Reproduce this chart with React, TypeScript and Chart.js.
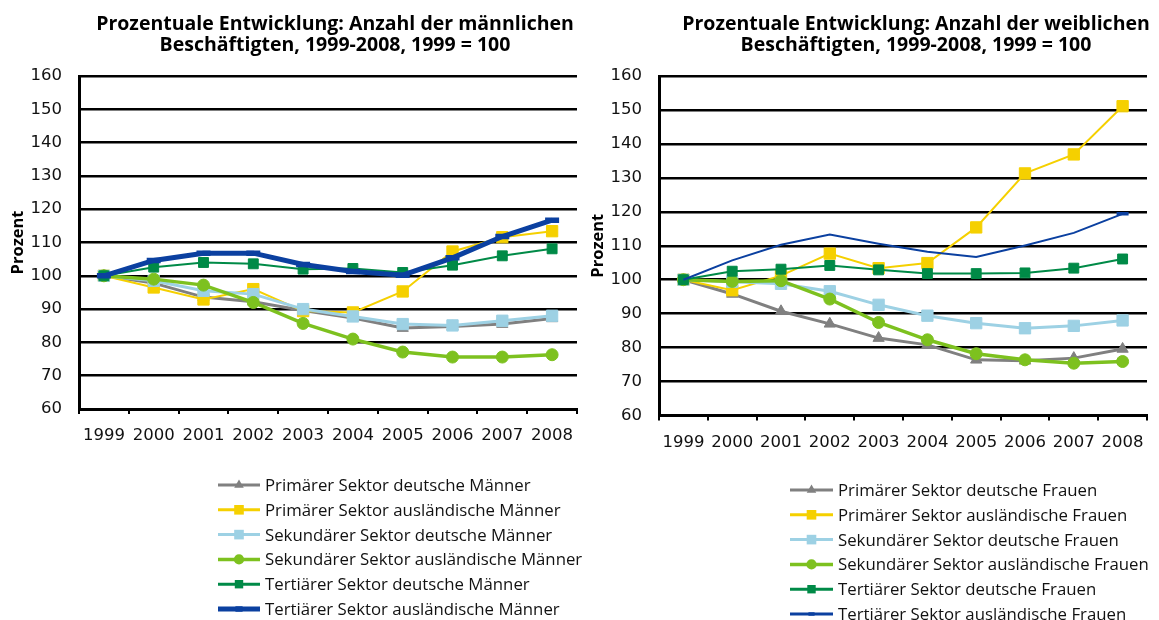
import React, { useEffect, useRef } from 'react';
import { Chart, registerables } from 'chart.js';

Chart.register(...registerables);

// ---------- data ----------
const years = ['1999', '2000', '2001', '2002', '2003', '2004', '2005', '2006', '2007', '2008'];
const yTickMin = 60;
const yTickMax = 160;
const yTickStep = 10;

const menPrimaerDeutsch = [100, 97.8, 93.6, 92.2, 89.6, 87.3, 84.3, 84.8, 85.5, 87.2];
const menPrimaerAusl = [100, 96.5, 92.9, 96.0, 89.4, 89.0, 95.3, 107.3, 111.6, 113.4];
const menSekundaerDeutsch = [100, 98.5, 95.5, 94.5, 90.0, 87.8, 85.5, 85.1, 86.5, 88.0];
const menSekundaerAusl = [100, 99.0, 97.2, 92.0, 85.7, 81.0, 77.1, 75.6, 75.6, 76.3];
const menTertiaerDeutsch = [100, 102.6, 104.0, 103.6, 102.0, 102.2, 101.0, 103.2, 106.0, 108.1];
const menTertiaerAusl = [100, 104.6, 106.8, 106.8, 103.4, 101.3, 100.2, 105.4, 111.8, 116.7];

const womenPrimaerDeutsch = [100, 95.8, 90.7, 87.0, 82.8, 80.8, 76.4, 76.1, 76.9, 79.6];
const womenPrimaerAusl = [100, 96.9, 101.2, 107.7, 103.4, 104.9, 115.4, 131.3, 136.9, 151.1];
const womenSekundaerDeutsch = [100, 99.4, 98.8, 96.6, 92.6, 89.4, 87.2, 85.7, 86.4, 88.0];
const womenSekundaerAusl = [100, 99.5, 99.7, 94.3, 87.4, 82.3, 78.2, 76.4, 75.4, 75.9];
const womenTertiaerDeutsch = [100, 102.5, 103.1, 104.2, 102.9, 101.8, 101.8, 102.0, 103.4, 106.1];
const womenTertiaerAusl = [100, 105.7, 110.3, 113.3, 110.6, 108.2, 106.7, 110.1, 113.8, 119.4];

const menLabels = [
  'Primärer Sektor deutsche Männer',
  'Primärer Sektor ausländische Männer',
  'Sekundärer Sektor deutsche Männer',
  'Sekundärer Sektor ausländische Männer',
  'Tertiärer Sektor deutsche Männer',
  'Tertiärer Sektor ausländische Männer',
];
const womenLabels = [
  'Primärer Sektor deutsche Frauen',
  'Primärer Sektor ausländische Frauen',
  'Sekundärer Sektor deutsche Frauen',
  'Sekundärer Sektor ausländische Frauen',
  'Tertiärer Sektor deutsche Frauen',
  'Tertiärer Sektor ausländische Frauen',
];

const menTitle = ['Prozentuale Entwicklung: Anzahl der männlichen', 'Beschäftigten, 1999-2008, 1999 = 100'];
const womenTitle = ['Prozentuale Entwicklung: Anzahl der weiblichen', 'Beschäftigten, 1999-2008, 1999 = 100'];
const yTitle = 'Prozent';

// ---------- styles ----------
type SeriesStyle = {
  color: string;
  pointStyle: string;
  radius: number;
  width: number;
  pointBorder: number;
  lastOnly?: boolean;
};

const menStyles: SeriesStyle[] = [
  { color: '#808080', pointStyle: 'triangle', radius: 6.5, width: 3, pointBorder: 1 },
  { color: '#F5D000', pointStyle: 'rect', radius: 8, width: 2, pointBorder: 1 },
  { color: '#9DD1E4', pointStyle: 'rect', radius: 8, width: 3, pointBorder: 1 },
  { color: '#7DC11F', pointStyle: 'circle', radius: 6, width: 3.5, pointBorder: 1 },
  { color: '#008A47', pointStyle: 'rect', radius: 7, width: 2, pointBorder: 1 },
  { color: '#0B40A0', pointStyle: 'line', radius: 7, width: 5, pointBorder: 5.5 },
];
const womenStyles: SeriesStyle[] = [
  { color: '#808080', pointStyle: 'triangle', radius: 6.5, width: 3, pointBorder: 1 },
  { color: '#F5D000', pointStyle: 'rect', radius: 8, width: 2, pointBorder: 1 },
  { color: '#9DD1E4', pointStyle: 'rect', radius: 8, width: 3, pointBorder: 1 },
  { color: '#7DC11F', pointStyle: 'circle', radius: 6, width: 3.5, pointBorder: 1 },
  { color: '#008A47', pointStyle: 'rect', radius: 7, width: 2, pointBorder: 1 },
  { color: '#0B40A0', pointStyle: 'line', radius: 6, width: 2, pointBorder: 3.5, lastOnly: true },
];

const TICK_FONT = 'DejaVu Sans';
const TEXT_FONT = "'Open Sans', 'Noto Sans', sans-serif";

type Layout = {
  width: number;
  height: number;
  padRight: number;
  padBottom: number;
  titleX: number;
  legendX0: number;
  legendX1: number;
  legendTextX: number;
  legendY0: number;
  legendStep: number;
};

function drawMarker(ctx: CanvasRenderingContext2D, style: SeriesStyle, x: number, y: number, scale: number) {
  const r = style.radius * scale;
  ctx.fillStyle = style.color;
  ctx.strokeStyle = style.color;
  ctx.beginPath();
  if (style.pointStyle === 'triangle') {
    for (let k = 0; k < 3; k++) {
      const a = (k * 2 * Math.PI) / 3;
      const px = x + Math.sin(a) * r;
      const py = y - Math.cos(a) * r;
      if (k === 0) ctx.moveTo(px, py);
      else ctx.lineTo(px, py);
    }
    ctx.closePath();
    ctx.fill();
  } else if (style.pointStyle === 'rect') {
    const s = r * Math.SQRT1_2;
    ctx.rect(x - s, y - s, 2 * s, 2 * s);
    ctx.fill();
  } else if (style.pointStyle === 'circle') {
    ctx.arc(x, y, r, 0, Math.PI * 2);
    ctx.fill();
  } else if (style.pointStyle === 'line') {
    ctx.lineWidth = style.pointBorder;
    ctx.moveTo(x - r * 0.6, y);
    ctx.lineTo(x + r * 0.6, y);
    ctx.stroke();
  }
}

function SectorChart(props: {
  title: string[];
  labels: string[];
  series: number[][];
  styles: SeriesStyle[];
  layout: Layout;
  left: number;
}) {
  const ref = useRef<HTMLCanvasElement | null>(null);
  useEffect(() => {
    const canvas = ref.current;
    if (!canvas) return;
    const { layout, styles, labels, title } = props;

    const decor = {
      id: 'decor',
      afterDraw(chart: any) {
        const ctx: CanvasRenderingContext2D = chart.ctx;
        ctx.save();
        // title
        ctx.fillStyle = '#000';
        ctx.font = `bold 19.5px ${TEXT_FONT}`;
        ctx.textAlign = 'center';
        ctx.textBaseline = 'alphabetic';
        title.forEach((t, i) => ctx.fillText(t, layout.titleX, 30 + i * 20.5));
        // legend
        labels.forEach((lab, i) => {
          const st = styles[i];
          const y = layout.legendY0 + i * layout.legendStep;
          ctx.strokeStyle = st.color;
          ctx.lineWidth = Math.max(st.width, 3);
          ctx.lineCap = 'butt';
          ctx.beginPath();
          ctx.moveTo(layout.legendX0, y);
          ctx.lineTo(layout.legendX1, y);
          ctx.stroke();
          drawMarker(ctx, st, (layout.legendX0 + layout.legendX1) / 2, y, 0.85);
          ctx.fillStyle = '#111';
          ctx.font = `16.8px ${TEXT_FONT}`;
          ctx.textAlign = 'left';
          ctx.textBaseline = 'alphabetic';
          ctx.fillText(lab, layout.legendTextX, y + 6);
        });
        ctx.restore();
      },
    };

    const datasets = props.series.map((data, i) => {
      const st = styles[i];
      const n = data.length;
      return {
        label: labels[i],
        data,
        borderColor: st.color,
        backgroundColor: st.color,
        borderWidth: st.width,
        pointStyle: st.pointStyle,
        pointRadius: st.lastOnly ? (c: any) => (c.dataIndex === n - 1 ? st.radius : 0) : st.radius,
        pointHoverRadius: st.radius,
        pointBackgroundColor: st.color,
        pointBorderColor: st.color,
        pointBorderWidth: st.pointBorder,
        tension: 0,
        fill: false,
        order: props.series.length - i,
      };
    });

    const chart = new Chart(canvas, {
      type: 'line',
      data: { labels: years, datasets },
      plugins: [decor],
      options: {
        responsive: false,
        animation: false,
        events: [],
        layout: { padding: { top: 76, right: layout.padRight, bottom: layout.padBottom, left: 0 } },
        plugins: {
          legend: { display: false },
          tooltip: { enabled: false },
          title: { display: false },
        },
        scales: {
          x: {
            type: 'category',
            offset: true,
            grid: {
              display: true,
              offset: true,
              drawOnChartArea: false,
              drawTicks: true,
              tickLength: 5,
              color: '#000',
              lineWidth: 2,
            },
            border: { display: true, color: '#000', width: 3 },
            ticks: {
              color: '#111',
              font: { family: TICK_FONT, size: 16.5 },
              padding: 12,
              maxRotation: 0,
              autoSkip: false,
            },
            afterFit: (s: any) => {
              s.height = 45;
            },
          },
          y: {
            min: yTickMin,
            max: yTickMax,
            ticks: {
              stepSize: yTickStep,
              color: '#111',
              font: { family: TICK_FONT, size: 16.5 },
              padding: 17,
            },
            grid: { color: '#000', lineWidth: 2.5, drawTicks: false },
            border: { display: true, color: '#000', width: 3 },
            title: {
              display: true,
              text: yTitle,
              color: '#000',
              font: { family: TEXT_FONT, weight: 'bold', size: 16.5 },
              padding: { top: 8, bottom: 0 },
            },
            afterFit: (s: any) => {
              s.width = 79;
            },
          },
        },
      } as any,
    } as any);
    return () => chart.destroy();
  }, []);

  return (
    <canvas
      ref={ref}
      width={props.layout.width}
      height={props.layout.height}
      style={{ position: 'absolute', left: props.left, top: 0, display: 'block' }}
    />
  );
}

const leftLayout: Layout = {
  width: 600,
  height: 620,
  padRight: 600 - 577,
  padBottom: 620 - 409 - 45,
  titleX: 335,
  legendX0: 218,
  legendX1: 260,
  legendTextX: 265,
  legendY0: 485,
  legendStep: 24.8,
};
const rightLayout: Layout = {
  width: 579,
  height: 620,
  padRight: 12,
  padBottom: 620 - 415.5 - 45,
  titleX: 336,
  legendX0: 210,
  legendX1: 253,
  legendTextX: 258,
  legendY0: 490,
  legendStep: 24.8,
};

export default function App() {
  return (
    <div style={{ position: 'absolute', left: 0, top: 0, width: 1159, height: 620, background: '#fff', overflow: 'hidden' }}>
      <SectorChart
        title={menTitle}
        labels={menLabels}
        series={[menPrimaerDeutsch, menPrimaerAusl, menSekundaerDeutsch, menSekundaerAusl, menTertiaerDeutsch, menTertiaerAusl]}
        styles={menStyles}
        layout={leftLayout}
        left={0}
      />
      <SectorChart
        title={womenTitle}
        labels={womenLabels}
        series={[womenPrimaerDeutsch, womenPrimaerAusl, womenSekundaerDeutsch, womenSekundaerAusl, womenTertiaerDeutsch, womenTertiaerAusl]}
        styles={womenStyles}
        layout={rightLayout}
        left={580}
      />
    </div>
  );
}
